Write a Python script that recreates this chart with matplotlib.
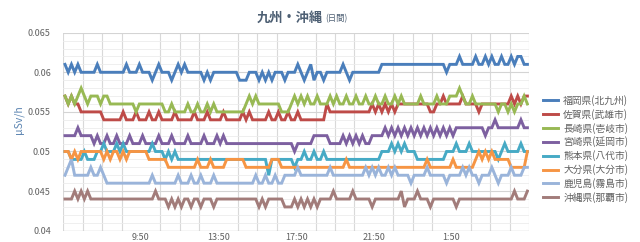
import matplotlib
matplotlib.use('Agg')
import matplotlib.pyplot as plt
import numpy as np

plt.rcParams['font.family'] = ['Noto Sans CJK JP', 'DejaVu Sans']

# readings every 10 minutes, 5:50 -> 5:40 next day, in 0.001 uSv/h
fukuoka = [61,60,61,60,61,60,60,60,60,60,61,60,
           60,60,60,60,60,60,60,61,60,60,60,61,
           60,60,60,59,60,61,60,60,60,59,60,61,
           60,61,60,60,60,60,60,59,60,59,60,60,
           60,60,60,60,60,60,59,59,59,60,60,60,
           59,60,59,60,59,60,60,60,59,60,60,60,
           61,60,59,60,61,59,60,60,59,60,60,60,
           60,60,61,60,59,60,60,60,60,60,60,60,
           60,60,61,61,61,61,61,61,61,61,61,61,
           61,61,61,61,61,61,61,61,61,61,60,61,
           61,61,62,61,61,61,61,62,61,61,62,61,
           62,61,61,62,61,61,62,61,62,62,61,61]
saga = [57,56,57,56,56,55,55,55,55,55,55,55,
        54,54,54,54,54,54,55,54,54,54,55,54,
        54,54,55,54,54,55,54,54,54,54,55,54,
        54,54,54,54,55,54,54,54,55,54,54,54,
        54,55,54,54,54,54,54,55,54,55,54,54,
        54,54,54,55,54,54,55,54,54,55,54,54,
        55,54,54,54,54,54,54,54,54,56,55,55,
        55,55,55,55,55,55,55,55,55,55,55,56,
        55,56,55,56,55,56,55,56,56,56,56,56,
        56,56,56,56,56,55,55,56,56,57,56,56,
        56,56,56,57,56,56,56,56,55,56,56,56,
        56,56,56,56,56,56,57,56,57,56,57,57]
nagasaki = [57,56,57,56,57,58,57,56,57,57,57,56,
            57,57,56,56,56,56,56,56,56,56,55,56,
            56,56,56,56,56,56,56,55,55,56,55,55,
            55,55,56,55,55,56,55,55,56,55,56,55,
            55,55,55,55,55,55,55,55,56,57,56,57,
            56,56,56,56,56,56,56,55,55,55,56,57,
            56,57,56,57,56,56,57,56,56,56,57,56,
            57,56,56,57,56,56,57,56,56,57,56,56,
            57,56,56,57,56,56,57,56,57,56,56,56,
            56,56,57,56,56,56,56,57,56,56,56,57,
            57,57,58,57,56,56,57,56,56,56,56,56,
            56,56,55,56,56,55,56,55,56,56,57,56]
miyazaki = [52,52,52,52,53,52,52,52,52,51,52,51,
            51,52,51,51,52,51,51,51,52,51,51,51,
            52,51,51,51,51,52,51,51,51,52,51,51,
            51,51,52,51,51,51,51,52,51,51,51,52,
            51,52,51,51,51,51,51,51,51,51,51,51,
            51,51,51,51,51,51,51,51,51,51,51,50,
            51,51,51,51,51,52,52,52,52,52,51,51,
            51,51,52,51,52,51,52,51,52,51,51,52,
            52,52,52,53,52,53,52,53,52,53,52,53,
            52,53,52,53,52,53,52,53,52,53,52,53,
            52,53,53,53,53,53,53,53,53,53,52,53,
            53,54,53,53,53,53,53,53,53,54,53,53]
kumamoto = [50,50,49,49,49,49,50,49,49,49,50,50,
            51,50,50,50,51,50,51,50,50,50,50,50,
            50,50,50,51,50,50,50,49,50,49,50,49,
            49,49,49,49,49,49,49,49,49,49,49,49,
            49,49,49,49,49,49,49,49,49,49,49,49,
            49,49,49,47,49,49,49,49,49,49,49,48,
            49,49,50,49,49,50,49,49,50,49,49,49,
            49,49,49,49,49,49,49,49,49,49,49,49,
            49,49,50,50,50,51,50,51,50,51,50,50,
            50,49,49,49,49,49,49,49,49,49,50,50,
            50,51,50,50,50,51,50,50,50,50,50,50,
            50,50,49,50,51,50,50,50,50,51,50,50]
oita = [50,50,49,50,49,50,50,50,50,50,50,50,
        49,50,49,50,50,49,50,49,50,50,50,50,
        50,50,49,49,49,49,49,49,48,48,48,48,
        48,48,48,48,48,49,48,48,48,49,48,48,
        48,48,49,49,49,49,49,49,48,48,48,48,
        48,48,48,48,49,49,49,48,48,48,48,48,
        48,48,48,48,48,48,48,48,48,48,48,48,
        48,48,48,49,48,48,48,48,48,48,48,48,
        48,48,48,48,48,48,48,48,48,48,48,48,
        48,48,48,48,49,48,48,48,48,48,48,48,
        49,48,48,48,48,48,48,49,50,49,50,49,
        50,49,49,49,49,49,48,48,48,48,48,50]
kagoshima = [47,48,49,47,47,47,47,47,48,47,47,48,
             47,46,46,46,46,46,46,46,46,46,46,46,
             46,46,46,47,46,46,46,46,46,46,46,47,
             46,46,46,47,46,46,47,46,46,46,47,46,
             46,46,46,46,46,46,46,46,46,46,46,47,
             46,46,47,46,46,47,46,46,47,47,47,47,
             48,47,47,47,47,47,47,47,47,47,48,47,
             47,47,47,47,47,47,47,47,47,48,47,48,
             47,48,47,47,48,47,48,47,47,47,47,46,
             47,47,47,47,48,47,47,47,47,47,46,47,
             47,47,47,48,47,48,47,47,46,47,47,47,
             48,47,46,47,47,47,48,47,47,47,48,48]
okinawa = [44,44,44,45,44,45,44,45,44,44,44,44,
           44,44,44,44,44,44,44,44,44,44,44,44,
           44,44,44,44,45,44,44,44,43,44,43,44,
           43,44,44,43,44,44,43,44,44,44,43,44,
           44,44,44,44,44,44,44,44,44,44,44,44,
           43,44,43,44,44,44,44,44,43,43,43,44,
           43,44,43,44,43,44,43,44,44,44,44,45,
           44,44,44,44,44,45,44,44,44,44,44,43,
           44,44,44,44,44,44,44,44,45,43,44,44,
           44,45,44,44,44,43,44,44,44,44,44,44,
           44,43,44,44,44,44,44,44,44,44,44,44,
           44,44,44,44,44,44,44,45,44,44,44,45]

series = [fukuoka, saga, nagasaki, miyazaki, kumamoto, oita, kagoshima, okinawa]
labels = ['福岡県(北九州)', '佐賀県(武雄市)', '長崎県(壱岐市)', '宮崎県(延岡市)',
          '熊本県(八代市)', '大分県(大分市)', '鹿児島(霧島市)', '沖縄県(那覇市)']
colors = ['#4a7ebb', '#be4b48', '#98b954', '#7d60a0', '#46aac5', '#f69544',
          '#9ab4da', '#a27c7a']
tick_labels = ['9:50', '13:50', '17:50', '21:50', '1:50']

fig = plt.figure(figsize=(6.4, 2.42), dpi=100)
ax = fig.add_axes([0.099, 0.0467, 0.7276, 0.8182])

for vals, lab, c in zip(series, labels, colors):
    x = np.arange(len(vals))
    ax.plot(x, np.array(vals) / 1000.0, color=c, lw=2.1, label=lab,
            solid_joinstyle='miter')

ax.set_xlim(-0.5, 143.5)
ax.set_ylim(0.04, 0.065)
ax.set_xticks(np.arange(-0.5, 144, 6), minor=True)
ax.set_xticks([23.5, 47.5, 71.5, 95.5, 119.5])
ax.set_xticklabels(tick_labels)
ax.set_yticks([0.04, 0.045, 0.05, 0.055, 0.06, 0.065])
ax.set_yticklabels(['0.04', '0.045', '0.05', '0.055', '0.06', '0.065'])
ax.set_yticks(np.arange(0.04, 0.0651, 0.001), minor=True)
ax.grid(which='minor', axis='y', color='#ececec', lw=0.6)
ax.grid(which='minor', axis='x', color='#d9d9d9', lw=0.8)
ax.grid(which='major', axis='y', color='#d4d4d4', lw=0.8)
ax.set_axisbelow(True)
ax.tick_params(which='both', length=0)
ax.tick_params(axis='y', labelsize=6.5, labelcolor='#606060', pad=9)
ax.tick_params(axis='x', labelsize=6.5, labelcolor='#606060', pad=2)
for s in ax.spines.values():
    s.set_visible(False)
ax.axhline(0.04, color='#c8c8c8', lw=0.9)

fig.text(0.03, 0.505, 'µSv/h', rotation=90, ha='center', va='center',
         fontsize=7.5, color='#5b84b1')
fig.text(0.401, 0.925, '九州・沖縄', ha='left', va='center', fontsize=9.5,
         fontweight='bold', color='#4d5f73')
fig.text(0.508, 0.922, '(日間)', ha='left', va='center', fontsize=6,
         color='#4d5f73')

ax.legend(loc='center left', bbox_to_anchor=(0.842, 0.385),
          bbox_transform=fig.transFigure, frameon=False, fontsize=7,
          handlelength=1.6, handletextpad=0.5, labelspacing=0.3,
          borderaxespad=0, labelcolor='#606060')

fig.savefig('out.png', dpi=100)
